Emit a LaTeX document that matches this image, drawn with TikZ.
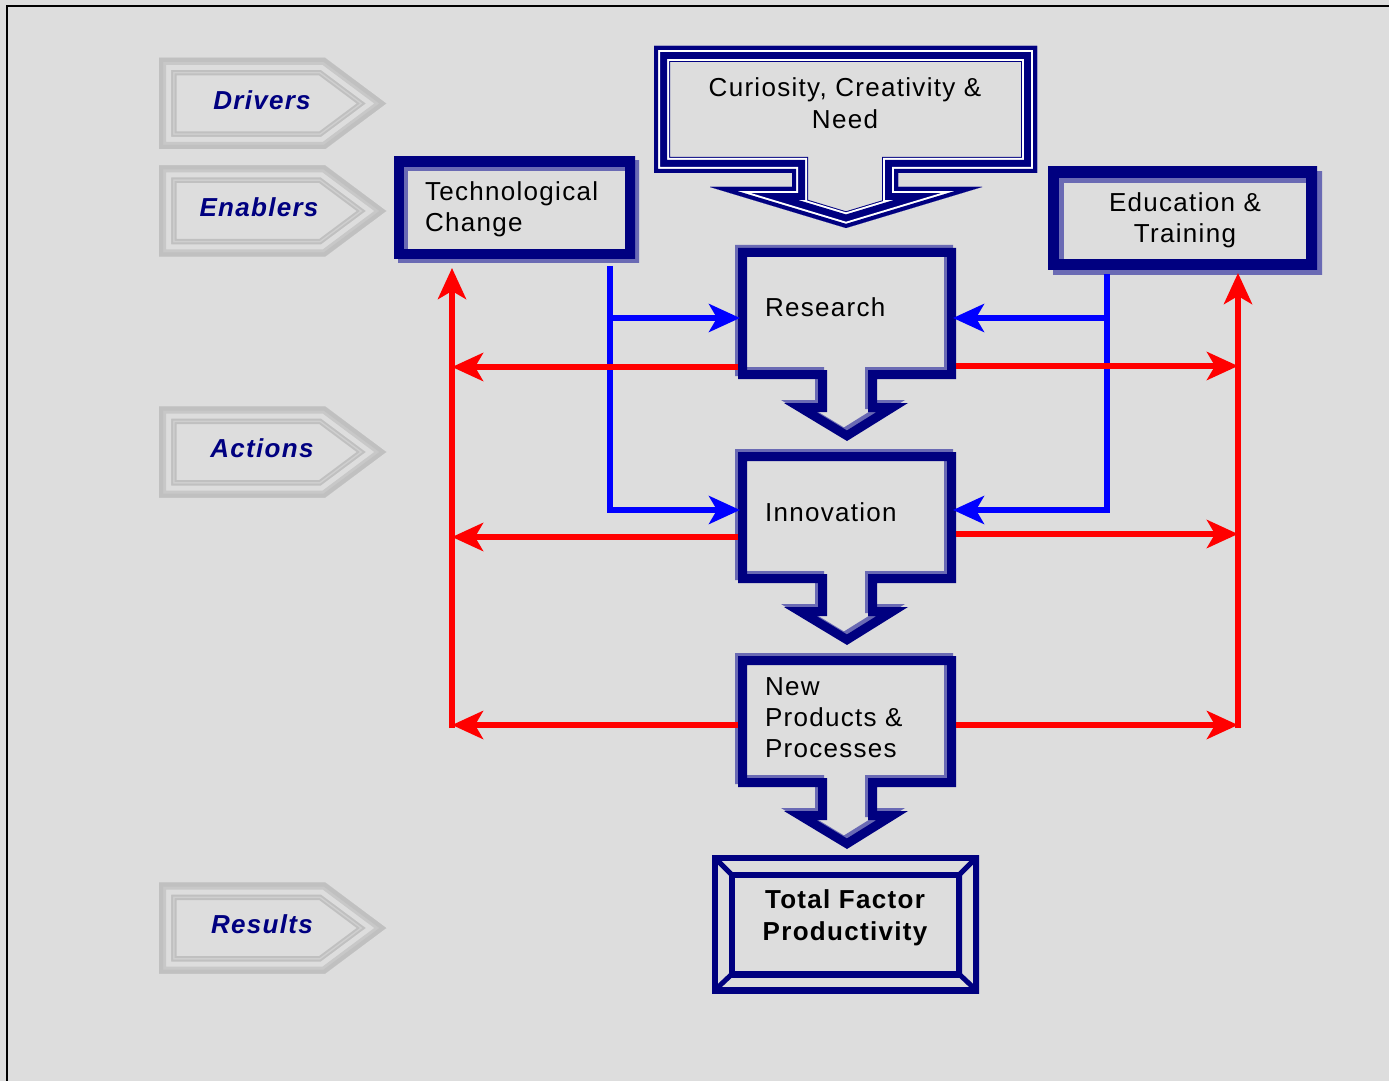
\documentclass[tikz,border=0pt]{standalone}
\usepackage{fontspec}
\setmainfont{Liberation Sans}[LetterSpace=5]
\usetikzlibrary{arrows.meta}
\definecolor{bg}{HTML}{DDDDDD}
\definecolor{navy}{HTML}{000080}
\definecolor{lnavy}{HTML}{6A6AB4}
\definecolor{ga}{HTML}{C0C0C0}
\definecolor{gb}{HTML}{CFCFCF}
\definecolor{gc}{HTML}{C8C8C8}
\tikzset{
  txt/.style={inner sep=0pt, outer sep=0pt, text=black, font=\fontsize{13}{15.5}\selectfont},
  lbltext/.style={inner sep=0pt, text=navy, font=\fontsize{13}{15.5}\selectfont\bfseries\itshape},
  redline/.style={draw=red, line width=3pt},
  blueline/.style={draw=blue, line width=2.75pt},
  myarrow/.style={-{Stealth[length=15.5pt,width=14pt,inset=4pt]}},
}
\newcommand\lblarrow[4]{%
  \def\lpath{(159,#2-45.5) -- (325,#2-45.5) -- (386,#2) -- (325,#2+45.5) -- (159,#2+45.5) -- cycle}%
  \begin{scope}
    \clip \lpath;
    \draw[ga, line width=17.5pt] \lpath;
    \draw[gb, line width=15.5pt] \lpath;
    \draw[ga, line width=14pt] \lpath;
    \draw[bg, line width=12pt] \lpath;
    \draw[gc, line width=7pt] \lpath;
    \draw[ga, line width=4pt] \lpath;
  \end{scope}
  \node[lbltext] (#1) at (#4,#2-3.5) {#3};
}
\newcommand\flowshape[1]{%
  \def\fpath{(738,248+#1) -- (956,248+#1) -- (956,379+#1) -- (877,379+#1) -- (877,403+#1) -- (908,403+#1) -- (847,441+#1) -- (784,403+#1) -- (818,403+#1) -- (818,379+#1) -- (738,379+#1) -- cycle}%
  \begin{scope}[shift={(-3,-3)}]
    \clip \fpath;
    \draw[lnavy, line width=9pt] \fpath;
  \end{scope}
  \begin{scope}
    \clip \fpath;
    \draw[navy, line width=9pt] \fpath;
  \end{scope}
}
\newcommand\plainbox[6]{% x1 y1 x2 y2 band shadow
  \begin{scope}[shift={(#6,#6)}]
    \clip (#1,#2) rectangle (#3,#4);
    \draw[lnavy, line width=#5pt] (#1,#2) rectangle (#3,#4);
  \end{scope}
  \begin{scope}
    \clip (#1,#2) rectangle (#3,#4);
    \draw[navy, line width=#5pt] (#1,#2) rectangle (#3,#4);
  \end{scope}
}
\begin{document}
\begin{tikzpicture}[x=0.5pt,y=-0.5pt]
\useasboundingbox (0,0) rectangle (1389,1081);
\fill[bg] (0,0) rectangle (1389,1081);
\draw[black, line width=1pt] (7,1081) -- (7,6) -- (1389,6);

% gray label arrows
\lblarrow{drivers}{103.5}{Drivers}{262}
\lblarrow{enablers}{211}{Enablers}{259}
\lblarrow{actions}{452}{Actions}{262}
\lblarrow{results}{928}{Results}{262}

% Curiosity shape
\def\cpath{(654,46) -- (1037,46) -- (1037,173) -- (898,173) -- (898,187) -- (982,187) -- (846,228) -- (710,187) -- (792,187) -- (792,173) -- (654,173) -- cycle}
\begin{scope}
  \clip \cpath;
  \draw[navy, line width=16pt] \cpath;
  \draw[white, line width=15pt] \cpath;
  \draw[navy, line width=13pt] \cpath;
  \draw[white, line width=6pt] \cpath;
  \draw[navy, line width=4pt] \cpath;
\end{scope}
\node[txt, align=center, anchor=north, font=\fontsize{13}{16}\selectfont] (cur) at (845,78) {Curiosity, Creativity \&\\Need};

% Technological Change and Education boxes
\plainbox{394}{157}{635}{259}{10}{4}
\node[txt, align=left, anchor=north west] (tech) at (425,182) {Technological\\Change};
\plainbox{1048}{167}{1317}{270}{11}{5}
\node[txt, align=center, anchor=north] (edu) at (1185,193) {Education \&\\Training};

% flow shapes
\flowshape{0}
\flowshape{204}
\flowshape{408}
\node[txt, anchor=base west] (res) at (765,316) {Research};
\node[txt, anchor=base west] (inn) at (765,521) {Innovation};
\node[txt, align=left, anchor=north west] (newp) at (765,678) {New\\Products \&\\Processes};

% Total Factor Productivity
\begin{scope}
  \clip (712,855) rectangle (979,993);
  \draw[navy, line width=6pt] (712,855) rectangle (979,993);
\end{scope}
\begin{scope}
  \clip (729,872) rectangle (962,977);
  \draw[navy, line width=6pt] (729,872) rectangle (962,977);
\end{scope}
\draw[navy, line width=2.5pt] (714,857) -- (732,875) (977,857) -- (959,875) (714,991) -- (732,974) (977,991) -- (959,974);
\node[txt, align=center, anchor=north, font=\fontsize{13}{16}\selectfont\bfseries] (tfp) at (845,890) {Total Factor\\Productivity};

% connector coordinates
\coordinate (techS) at (610,266);
\coordinate (eduS) at (1107,274);
\coordinate (resW) at (740,318);
\coordinate (resE) at (953,318);
\coordinate (innW) at (740,510);
\coordinate (innE) at (953,510);
\coordinate (redLb) at (452,728);
\coordinate (redLt) at (452,268);
\coordinate (redRb) at (1238,728);
\coordinate (redRt) at (1238,273);
\coordinate (resWr) at (738,367);
\coordinate (resEr) at (956,366);
\coordinate (innWr) at (738,537);
\coordinate (innEr) at (956,534);
\coordinate (newWr) at (738,725);
\coordinate (newEr) at (956,725);

% blue connectors
\draw[blueline, myarrow] (techS) |- (innW);
\draw[blueline, myarrow] (techS |- resW) -- (resW);
\draw[blueline, myarrow] (eduS) |- (innE);
\draw[blueline, myarrow] (eduS |- resE) -- (resE);

% red connectors
\draw[redline, myarrow] (redLb) -- (redLt);
\draw[redline, myarrow] (redRb) -- (redRt);
\draw[redline, myarrow] (resWr) -- (redLt |- resWr);
\draw[redline, myarrow] (innWr) -- (redLt |- innWr);
\draw[redline, myarrow] (newWr) -- (redLt |- newWr);
\draw[redline, myarrow] (resEr) -- (redRt |- resEr);
\draw[redline, myarrow] (innEr) -- (redRt |- innEr);
\draw[redline, myarrow] (newEr) -- (redRt |- newEr);
\end{tikzpicture}
\end{document}
